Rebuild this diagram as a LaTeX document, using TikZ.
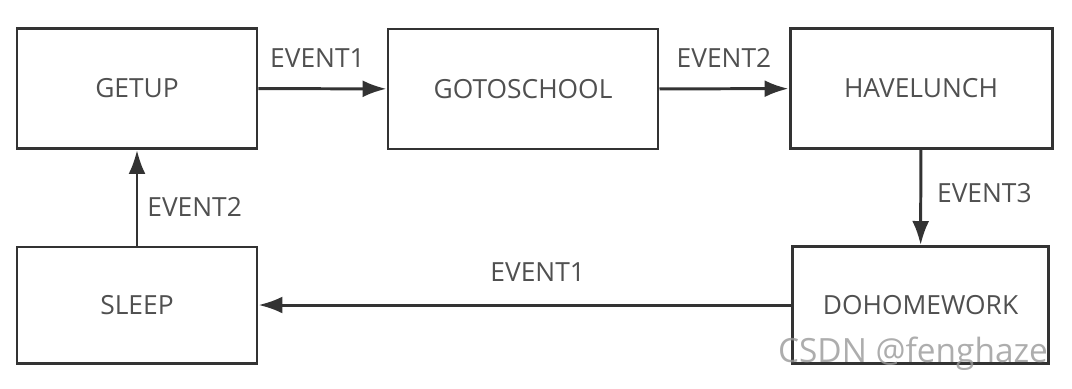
\documentclass[tikz,border=0pt]{standalone}
\usepackage{fontspec}
\setmainfont{Open Sans}
\usepackage{xcolor}
\usetikzlibrary{arrows.meta}

\definecolor{edgegray}{HTML}{333333}
\definecolor{textgray}{HTML}{505050}

\begin{document}
\begin{tikzpicture}[
    state/.style={rectangle, draw=edgegray, line width=1.7pt, minimum height=2.4cm,
                  text=textgray, font=\fontsize{15}{18}\selectfont},
    trans/.style={-{Latex[length=0.48cm, width=0.34cm]}, draw=edgegray, line width=1.7pt},
    evt/.style={text=textgray, font=\fontsize{15}{18}\selectfont}]
    \useasboundingbox (0,0) rectangle (21.44,-7.76);
    % the five states
    \node[state, minimum width=4.8cm]  (getup)  at (2.74,-1.77)  {GETUP};
    \node[state, minimum width=5.4cm]  (school) at (10.46,-1.78) {GOTOSCHOOL};
    \node[state, minimum width=5.24cm] (lunch)  at (18.42,-1.77) {HAVELUNCH};
    \node[state, minimum width=4.8cm, minimum height=2.32cm]  (sleep) at (2.74,-6.10)  {SLEEP};
    \node[state, minimum width=5.12cm, minimum height=2.34cm] (homework) at (18.41,-6.10) {DOHOMEWORK};
    % transitions
    \draw[trans] (getup) -- node[evt, midway, yshift=0.62cm, xshift=-0.1cm] {EVENT1} (school);
    \draw[trans] (school) -- node[evt, midway, yshift=0.62cm] {EVENT2} (lunch);
    \draw[trans] (lunch) -- node[evt, midway, right=0.18cm, yshift=0.09cm] {EVENT3} (homework);
    \draw[trans] (homework) -- node[evt, midway, yshift=0.66cm, xshift=0.26cm] {EVENT1} (sleep);
    \draw[trans] (sleep) -- node[evt, midway, right=0.06cm, yshift=-0.19cm] {EVENT2} (getup);
    % watermark
    \node[text=gray!80, opacity=0.8, font=\fontsize{19}{21}\selectfont] (mark) at (18.26,-7.08) {CSDN @fenghaze};
\end{tikzpicture}
\end{document}
